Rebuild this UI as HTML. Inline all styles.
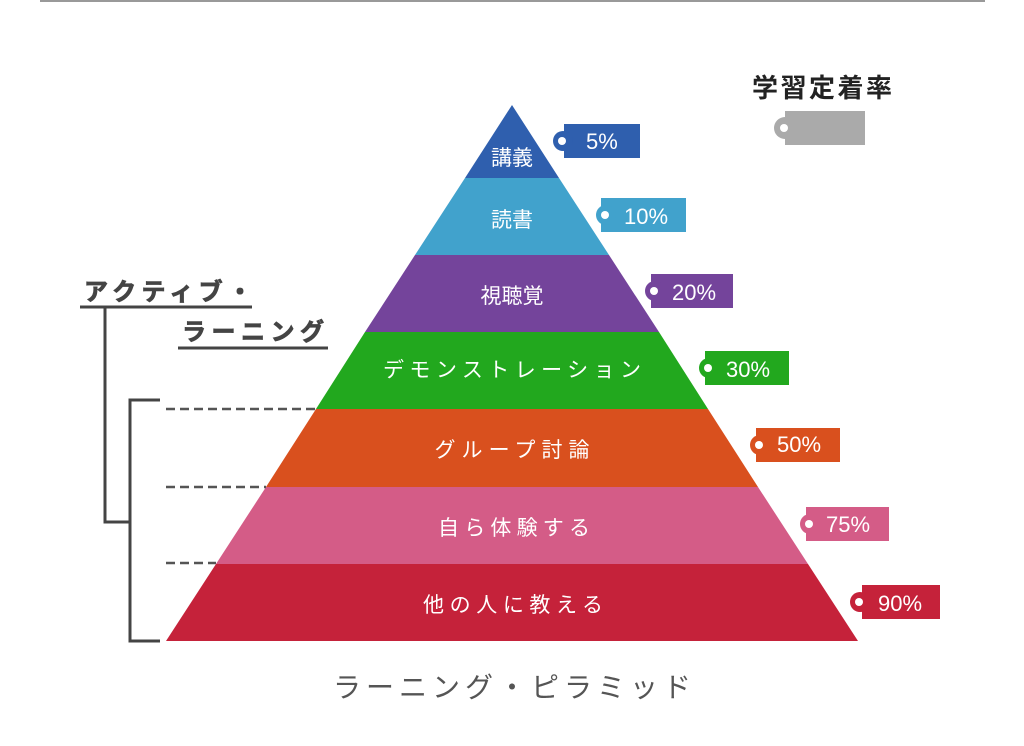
<!DOCTYPE html>
<html><head><meta charset="utf-8"><style>
html,body{margin:0;padding:0;background:#fff;}
svg{display:block;}
text{font-family:"Liberation Sans","Noto Sans CJK JP",sans-serif;}
</style></head><body>
<svg width="1024" height="746" viewBox="0 0 1024 746" xmlns="http://www.w3.org/2000/svg">
<rect x="40" y="0" width="945" height="2" fill="#999"/>
<polygon points="512,105 559,178 465,178" fill="#2f5fae"/>
<polygon points="465,178 559,178 609,255 415,255" fill="#41a2cc"/>
<polygon points="415,255 609,255 659,332 365,332" fill="#74449b"/>
<polygon points="365,332 659,332 708,409 316,409" fill="#22a81e"/>
<polygon points="316,409 708,409 758,487 266,487" fill="#d9501e"/>
<polygon points="266,487 758,487 808,564 216,564" fill="#d45c87"/>
<polygon points="216,564 808,564 858,641 166,641" fill="#c5223a"/>
<g fill="#fff" font-size="21" text-anchor="middle">
<text x="512" y="165">講義</text>
<text x="512" y="227">読書</text>
<text x="512" y="303">視聴覚</text>
<text x="512" y="377" textLength="258" lengthAdjust="spacing">デモンストレーション</text>
<text x="512" y="457" textLength="155" lengthAdjust="spacing">グループ討論</text>
<text x="514" y="535" textLength="152" lengthAdjust="spacing">自ら体験する</text>
<text x="513" y="612" textLength="180" lengthAdjust="spacing">他の人に教える</text>
</g>
<g font-size="22" fill="#fff">
<g fill="#2f5fae"><rect x="564" y="124" width="76" height="34"/><circle cx="563" cy="141" r="10"/></g>
<circle cx="562" cy="141" r="4" fill="#fff"/><text x="586" y="149">5%</text>
<g fill="#41a2cc"><rect x="601" y="198" width="85" height="34"/><circle cx="606" cy="215" r="10"/></g>
<circle cx="605" cy="215" r="4" fill="#fff"/><text x="624" y="224">10%</text>
<g fill="#74449b"><rect x="651" y="274" width="82" height="34"/><circle cx="655" cy="291" r="10"/></g>
<circle cx="654" cy="291" r="4" fill="#fff"/><text x="672" y="300">20%</text>
<g fill="#22a81e"><rect x="705" y="351" width="84" height="34"/><circle cx="709" cy="368" r="10"/></g>
<circle cx="708" cy="368" r="4" fill="#fff"/><text x="726" y="377">30%</text>
<g fill="#d9501e"><rect x="756" y="428" width="84" height="34"/><circle cx="760" cy="445" r="10"/></g>
<circle cx="759" cy="445" r="4" fill="#fff"/><text x="777" y="452">50%</text>
<g fill="#d45c87"><rect x="806" y="507" width="83" height="34"/><circle cx="810" cy="524" r="10"/></g>
<circle cx="809" cy="524" r="4" fill="#fff"/><text x="826" y="532">75%</text>
<g fill="#c5223a"><rect x="862" y="585" width="78" height="34"/><circle cx="860" cy="602" r="10"/></g>
<circle cx="859" cy="602" r="4" fill="#fff"/><text x="878" y="611">90%</text>
</g>
<text x="752" y="97" font-size="26" font-weight="bold" fill="#222" textLength="140" lengthAdjust="spacing">学習定着率</text>
<rect x="785" y="111" width="80" height="34" fill="#aaa"/><circle cx="785" cy="128" r="11" fill="#aaa"/><circle cx="784" cy="128" r="4" fill="#fff"/>
<text x="84" y="300" font-size="24" font-weight="bold" fill="#444" stroke="#444" stroke-width="0.8" textLength="168" lengthAdjust="spacing">アクティブ・</text>
<text x="182" y="340" font-size="24" font-weight="bold" fill="#444" stroke="#444" stroke-width="0.8" textLength="142" lengthAdjust="spacing">ラーニング</text>
<g stroke="#444" stroke-width="3" fill="none">
<line x1="80" y1="307" x2="252" y2="307"/>
<line x1="178" y1="348" x2="328" y2="348"/>
<polyline points="105,307 105,522 130,522"/>
<polyline points="160,400 130,400 130,641 160,641"/>
</g>
<g stroke="#555" stroke-width="2.5" stroke-dasharray="9,5">
<line x1="166" y1="409" x2="316" y2="409"/>
<line x1="166" y1="487" x2="266" y2="487"/>
<line x1="166" y1="563" x2="216" y2="563"/>
</g>
<text x="333" y="697" font-size="28" fill="#555" textLength="358" lengthAdjust="spacing">ラーニング・ピラミッド</text>
</svg>
</body></html>
